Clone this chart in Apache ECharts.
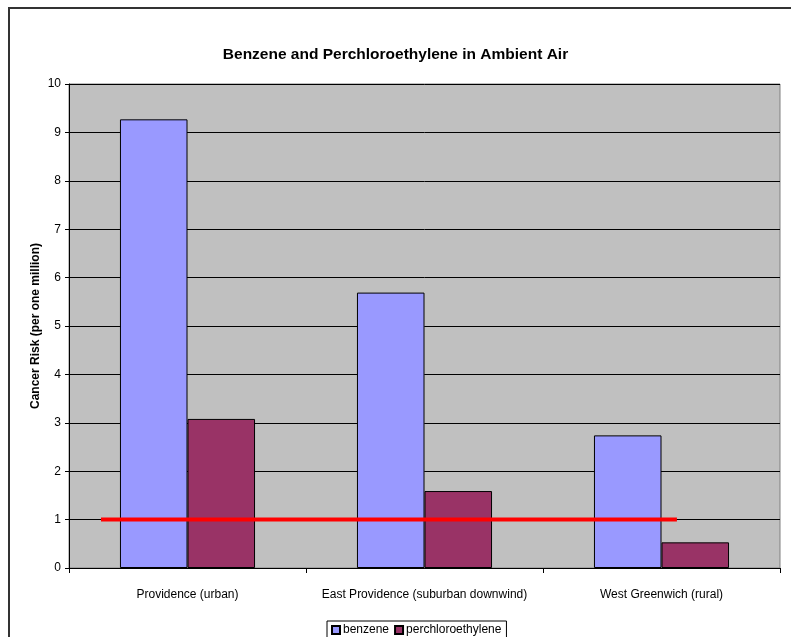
<!DOCTYPE html>
<html>
<head>
<meta charset="utf-8">
<script src="https://cdn.jsdelivr.net/npm/echarts@6/dist/echarts.min.js"></script>
<style>
  html, body { margin: 0; padding: 0; background: #fff; }
  #chart { width: 791px; height: 637px; }
</style>
</head>
<body>
<div id="chart"></div>
<script>
// Monitoring sites
var categories = ['Providence (urban)', 'East Providence (suburban downwind)', 'West Greenwich (rural)'];
// Cancer risk per one million
var benzene = [9.27, 5.69, 2.74];
var perchloroethylene = [3.08, 1.59, 0.53];
// One-in-a-million benchmark, spanning from the first to the last site group
var benchmarkX = [0.135, 2.565];
var benchmarkY = [1, 1];
var yTicks = [0, 1, 2, 3, 4, 5, 6, 7, 8, 9, 10];

var chart = echarts.init(document.getElementById('chart'));
var font = 'Liberation Sans, Arial, sans-serif';

chart.setOption({
  animation: false,
  backgroundColor: '#ffffff',
  textStyle: { fontFamily: font },
  title: {
    text: 'Benzene and Perchloroethylene in Ambient Air',
    left: 'center',
    top: 42,
    textStyle: { fontSize: 15.5, fontWeight: 'bold', color: '#000', fontFamily: font }
  },
  graphic: [{
    type: 'rect',
    shape: { x: 9, y: 8, width: 800, height: 660 },
    style: { fill: 'none', stroke: '#333', lineWidth: 2 },
    silent: true
  }],
  grid: {
    left: 69, right: 11, top: 84, bottom: 69,
    show: true,
    backgroundColor: '#C0C0C0',
    borderColor: '#808080',
    borderWidth: 1
  },
  legend: {
    data: ['benzene', 'perchloroethylene'],
    top: 621,
    left: 327,
    icon: 'rect',
    itemWidth: 8,
    itemHeight: 8,
    itemGap: 5,
    padding: [3, 5, 6, 4],
    borderColor: '#000',
    borderWidth: 1,
    textStyle: { fontSize: 12, color: '#000', fontFamily: font, padding: [0, 0, 0, -2] }
  },
  xAxis: [{
    type: 'category',
    data: categories,
    axisLine: { lineStyle: { color: '#000', width: 1 } },
    axisTick: { show: true, interval: 0, length: 5, lineStyle: { color: '#000' } },
    axisLabel: { interval: 0, fontSize: 12, color: '#000', margin: 21, fontFamily: font },
    splitLine: { show: false }
  }, {
    type: 'value',
    min: 0,
    max: 3,
    show: false
  }],
  yAxis: {
    type: 'value',
    min: yTicks[0],
    max: yTicks[yTicks.length - 1],
    interval: 1,
    name: 'Cancer Risk (per one million)',
    nameLocation: 'middle',
    nameGap: 27,
    nameMoveOverlap: false,
    nameTextStyle: { fontSize: 12, fontWeight: 'bold', color: '#000', fontFamily: font },
    axisLine: { show: true, lineStyle: { color: '#000' } },
    axisTick: { show: true, length: 4, lineStyle: { color: '#000' } },
    axisLabel: { fontSize: 12, color: '#000', margin: 8, fontFamily: font },
    splitLine: { show: true, lineStyle: { color: '#000', width: 1 } }
  },
  series: [{
    name: 'benzene',
    type: 'bar',
    data: benzene,
    barGap: '0%',
    barCategoryGap: '43%',
    itemStyle: { color: '#9999FF', borderColor: '#000', borderWidth: 1 }
  }, {
    name: 'perchloroethylene',
    type: 'bar',
    data: perchloroethylene,
    itemStyle: { color: '#993366', borderColor: '#000', borderWidth: 1 }
  }, {
    name: 'benchmark',
    type: 'line',
    xAxisIndex: 1,
    data: benchmarkX.map(function (x, i) { return [x, benchmarkY[i]]; }),
    symbol: 'none',
    lineStyle: { color: '#FF0000', width: 4 },
    z: 5
  }]
});
</script>
</body>
</html>
